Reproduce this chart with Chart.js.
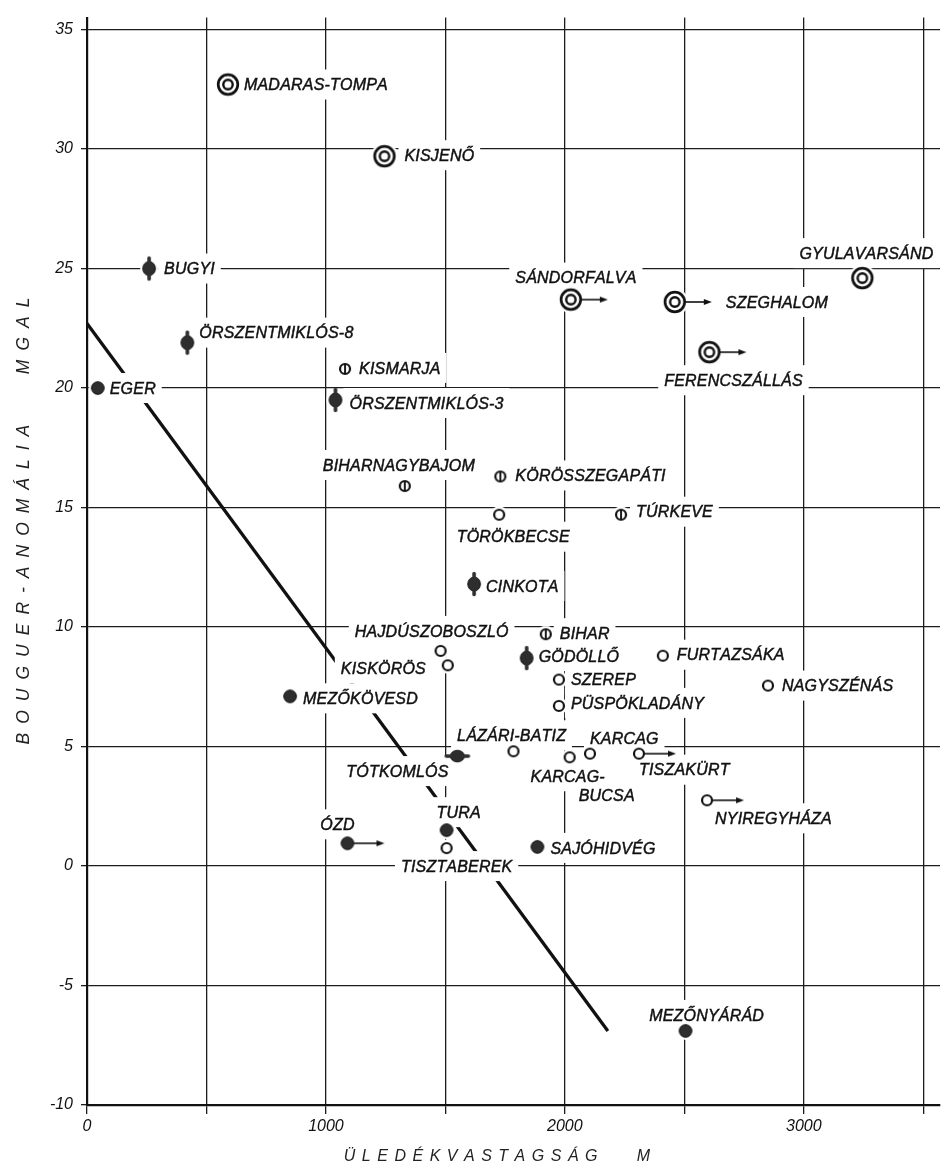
<!DOCTYPE html>
<html><head><meta charset="utf-8">
<script src="https://cdn.jsdelivr.net/npm/chart.js@4/dist/chart.umd.min.js"></script>
<style>html,body{margin:0;padding:0;background:#fff}canvas{display:block}</style>
</head><body>
<canvas id="c" width="948" height="1168"></canvas>
<script>
// ---------------- data ----------------
const names = ['MADARAS-TOMPA','KISJENŐ','BUGYI','ÖRSZENTMIKLÓS-8','EGER','KISMARJA','ÖRSZENTMIKLÓS-3',
  'BIHARNAGYBAJOM','KÖRÖSSZEGAPÁTI','TÖRÖKBECSE','TÚRKEVE','CINKOTA','SÁNDORFALVA','SZEGHALOM',
  'GYULAVARSÁND','FERENCSZÁLLÁS','HAJDÚSZOBOSZLÓ','KISKÖRÖS','MEZŐKÖVESD','BIHAR','GÖDÖLLŐ','SZEREP',
  'PÜSPÖKLADÁNY','FURTAZSÁKA','NAGYSZÉNÁS','LÁZÁRI-BATIZ','KARCAG-BUCSA','KARCAG','TISZAKÜRT',
  'NYIREGYHÁZA','SAJÓHIDVÉG','TÓTKOMLÓS','TURA','TISZTABEREK','ÓZD','MEZŐNYÁRÁD'];
const thickness = [590,1245,260,420,45,1080,1040,1330,1730,1725,2235,1620,2025,2460,3245,2605,1480,1510,
  850,1920,1840,1975,1975,2410,2850,1785,2020,2105,2310,2595,1885,1550,1505,1505,1090,2505];
const anomaly = [32.7,29.7,25.0,21.9,20.0,20.8,19.5,15.9,16.3,14.7,14.7,11.8,23.7,23.6,24.6,21.5,9.0,8.4,
  7.1,9.7,8.7,7.8,6.7,8.8,7.55,4.8,4.55,4.7,4.7,2.75,0.8,4.6,1.5,0.75,0.95,-6.9];
const kinds = ['double','double','spindle','spindle','filled','phi','spindle','phi','phi','open','phi','spindle',
  'double','double','double','double','open','open','filled','phi','spindle','open','open','open','open','open',
  'open','open','open','open','filled','spindleH','filled','open','filled','filled'];
const deeper = [false,false,false,false,false,false,false,false,false,false,false,false,true,true,false,true,
  false,false,false,false,false,false,false,false,false,false,false,false,true,true,false,false,false,false,true,false];
const trendX = [0, 2180];
const trendY = [22.7, -6.9];
const xGridValues = [0, 500, 1000, 1500, 2000, 2500, 3000, 3500];
const xLabelValues = [0, 1000, 2000, 3000];
const xTitle = 'ÜLEDÉKVASTAGSÁG   M';
const yTitle = 'BOUGUER-ANOMÁLIA   MGAL';

// label placement (pixel offsets from the marker): [dx, dy, align] per text line
const labelLines = names.map(n => n === 'KARCAG-BUCSA' ? ['KARCAG-', 'BUCSA'] : [n]);
const labelPlace = [
  [[16,0,'l']],[[20,-1,'l']],[[15,0,'l']],[[12,-10,'l']],[[12,0,'l']],[[14,-1,'l']],[[14,3,'l']],
  [[-6,-21,'c']],[[15,-1,'l']],[[14,22,'c']],[[15,-3,'l']],[[12,2,'l']],[[5,-22,'c']],[[51,0,'l']],
  [[4,-25,'c']],[[24,28,'c']],[[-9,-20,'c']],[[-22,3,'r']],[[13,2,'l']],[[14,-1,'l']],[[12,-2,'l']],
  [[12,0,'l']],[[12,-3,'l']],[[14,-1,'l']],[[14,0,'l']],[[-2,-16,'c']],[[-2,19,'c'],[37,38,'c']],
  [[0,-15,'l']],[[0,16,'l']],[[8,18,'l']],[[13,1,'l']],[[-60,15,'c']],[[12,-18,'c']],[[10,18,'c']],
  [[-10,-19,'c']],[[21,-16,'c']]
];

// ---------------- markers ----------------
function markerCanvas(kind, arrow){
  const H = 30, arrowLen = 37;
  const halfW = arrow ? arrowLen + 2 : 15;
  const c = document.createElement('canvas');
  c.width = halfW * 2; c.height = H;
  const g = c.getContext('2d');
  const cx = halfW, cy = H / 2, ink = '#111', dark = '#2e2e2e';
  const halo = r => { g.fillStyle = '#fff'; g.beginPath(); g.arc(cx, cy, r, 0, 2*Math.PI); g.fill(); };
  let edge = 6;
  if (kind === 'double') {
    halo(13.5);
    g.strokeStyle = ink; g.lineWidth = 2.7; g.beginPath(); g.arc(cx, cy, 9.8, 0, 2*Math.PI); g.stroke();
    g.lineWidth = 2.4; g.beginPath(); g.arc(cx, cy, 4.7, 0, 2*Math.PI); g.stroke();
    edge = 11;
  } else if (kind === 'open' || kind === 'phi') {
    halo(8.5);
    g.strokeStyle = ink; g.lineWidth = 2.2; g.beginPath(); g.arc(cx, cy, 5, 0, 2*Math.PI); g.stroke();
    if (kind === 'phi') { g.lineWidth = 1.9; g.beginPath(); g.moveTo(cx, cy-5); g.lineTo(cx, cy+5); g.stroke(); }
    edge = 6;
  } else if (kind === 'filled') {
    halo(9);
    g.fillStyle = dark; g.beginPath(); g.arc(cx, cy, 6.3, 0, 2*Math.PI); g.fill();
    g.strokeStyle = ink; g.lineWidth = 1; g.stroke();
    edge = 6.5;
  } else {
    const v = kind === 'spindle';
    halo(9);
    g.fillStyle = dark; g.beginPath(); g.ellipse(cx, cy, v ? 6.3 : 7, v ? 7 : 5.8, 0, 0, 2*Math.PI); g.fill();
    g.strokeStyle = ink; g.lineWidth = 1; g.stroke();
    g.strokeStyle = dark; g.lineWidth = 3.6; g.lineCap = 'round'; g.beginPath();
    if (v) { g.moveTo(cx, cy-10.5); g.lineTo(cx, cy+10.5); } else { g.moveTo(cx-11, cy); g.lineTo(cx+11, cy); }
    g.stroke();
    edge = 7;
  }
  if (arrow) {
    g.strokeStyle = ink; g.lineWidth = 1.6; g.lineCap = 'butt';
    g.beginPath(); g.moveTo(cx+edge, cy); g.lineTo(cx+arrowLen-5, cy); g.stroke();
    g.fillStyle = ink; g.beginPath(); g.moveTo(cx+arrowLen, cy); g.lineTo(cx+arrowLen-8, cy-3);
    g.lineTo(cx+arrowLen-8, cy+3); g.closePath(); g.fill();
  }
  return c;
}
const pointStyles = kinds.map((k, i) => markerCanvas(k, deeper[i]));

// ---------------- text helpers ----------------
const FAM = "'Liberation Sans', Arial, sans-serif";
function spacedWidth(ctx, text, sp){
  let w = 0; for (const ch of text) w += ctx.measureText(ch).width + sp; return w - sp;
}
function drawSpaced(ctx, text, x, y, sp, align, weight){
  const w = spacedWidth(ctx, text, sp);
  let cx = align === 'c' ? x - w/2 : align === 'r' ? x - w : x;
  ctx.textAlign = 'left';
  for (const ch of text) {
    ctx.fillText(ch, cx, y);
    if (weight) ctx.strokeText(ch, cx, y);
    cx += ctx.measureText(ch).width + sp;
  }
  return w;
}

const LABEL_SIZE = 16, LABEL_SP = 0.2;
const labelPlugin = {
  id: 'stationLabels',
  afterDatasetDraw(chart, args){
    if (args.meta.type !== 'line') return;
    const ctx = chart.ctx, xs = chart.scales.x, ys = chart.scales.y;
    ctx.save();
    ctx.font = `italic ${LABEL_SIZE}px ${FAM}`;
    ctx.textBaseline = 'alphabetic';
    const cap = LABEL_SIZE * 0.716;
    const items = [];
    names.forEach((n, i) => {
      const px = xs.getPixelForValue(thickness[i]), py = ys.getPixelForValue(anomaly[i]);
      labelLines[i].forEach((t, j) => {
        const [dx, dy, al] = labelPlace[i][j];
        const w = spacedWidth(ctx, t, LABEL_SP);
        const ax = px + dx;
        const x0 = al === 'c' ? ax - w/2 : al === 'r' ? ax - w : ax;
        items.push({t, x0, y: py + dy, w});
      });
    });
    ctx.fillStyle = '#fff';
    items.forEach(it => ctx.fillRect(it.x0 - 6, it.y - 15, it.w + 12, 30));
    ctx.fillStyle = '#111'; ctx.strokeStyle = '#111'; ctx.lineWidth = 0.45;
    items.forEach(it => drawSpaced(ctx, it.t, it.x0, it.y + cap/2, LABEL_SP, 'l', true));
    ctx.restore();
  },
  afterDraw(chart){
    const ctx = chart.ctx;
    ctx.save();
    ctx.fillStyle = '#222';
    ctx.textBaseline = 'alphabetic';
    // x title
    ctx.font = `italic 16px ${FAM}`;
    drawSpaced(ctx, xTitle, 497, 1161, 6.5, 'c');
    // y title
    ctx.translate(22, 521);
    ctx.rotate(-Math.PI/2);
    ctx.font = `italic 17.5px ${FAM}`;
    drawSpaced(ctx, yTitle, 0, 6.5, 9, 'c');
    ctx.restore();
  }
};

// ---------------- chart ----------------
Chart.defaults.font.family = FAM;
const tickFont = {family: FAM, size: 16, style: 'italic'};
new Chart(document.getElementById('c'), {
  data: {
    datasets: [
      { type: 'scatter', order: 1,
        data: names.map((n, i) => ({x: thickness[i], y: anomaly[i]})),
        pointStyle: pointStyles, pointRadius: 6, showLine: false },
      { type: 'line', order: 2,
        data: trendX.map((x, i) => ({x, y: trendY[i]})),
        borderColor: '#111', borderWidth: 3.3, pointRadius: 0, fill: false, tension: 0 }
    ]
  },
  options: {
    responsive: false, animation: false, events: [],
    layout: {padding: {left: 0, right: 8, top: 12, bottom: 0}},
    plugins: {legend: {display: false}, tooltip: {enabled: false}},
    scales: {
      x: {
        type: 'linear', min: 0, max: 3570,
        afterBuildTicks: s => { s.ticks = xGridValues.map(v => ({value: v})); },
        afterFit: s => { s.height = 63; },
        border: {display: true, color: '#111', width: 2.2},
        grid: {color: '#1c1c1c', lineWidth: 1.3, tickLength: 9, tickColor: '#1c1c1c'},
        ticks: {autoSkip: false, maxRotation: 0, minRotation: 0, padding: 3,
          color: '#111', font: tickFont,
          callback: v => xLabelValues.includes(v) ? String(v) : ''}
      },
      y: {
        type: 'linear', min: -10, max: 35.5,
        afterFit: s => { s.width = 87; },
        border: {display: true, color: '#111', width: 2.2},
        grid: {color: '#1c1c1c', lineWidth: 1.3, tickLength: 6, tickColor: '#1c1c1c'},
        ticks: {stepSize: 5, includeBounds: false, padding: 8, color: '#111', font: tickFont}
      }
    }
  },
  plugins: [labelPlugin]
});
</script>
</body></html>
